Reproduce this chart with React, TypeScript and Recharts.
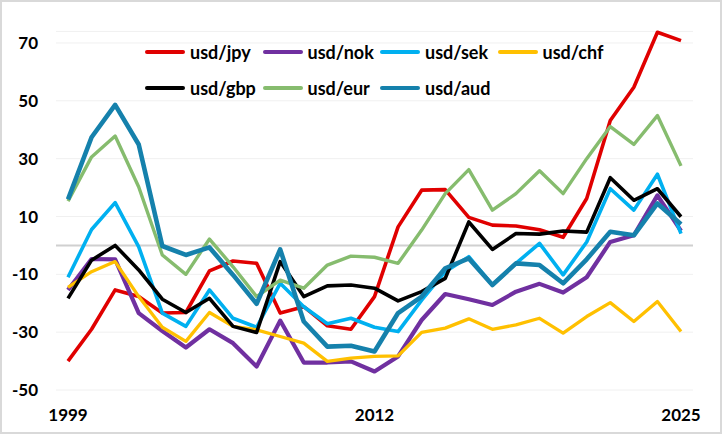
import React from 'react';
import { LineChart, Line, XAxis, YAxis, CartesianGrid, ReferenceLine } from 'recharts';

const years = [1999,2000,2001,2002,2003,2004,2005,2006,2007,2008,2009,2010,2011,2012,2013,2014,2015,2016,2017,2018,2019,2020,2021,2022,2023,2024,2025];

const usdJpy = [-40,-29,-15.4,-17.7,-23.4,-23.2,-8.8,-5.4,-6.2,-23.4,-21.2,-27.8,-29,-17.7,6.4,19.1,19.3,9.7,7,6.7,5.4,2.8,16.2,43.2,54.7,73.7,70.8];
const usdNok = [-15.4,-4.7,-4.8,-23.4,-29.6,-35.3,-29,-33.8,-41.9,-26,-40.5,-40.5,-40.1,-43.6,-38.4,-25.8,-16.8,-18.6,-20.6,-16,-13.3,-16.3,-11,1.2,3.5,17.3,5];
const usdSek = [-11,5.5,14.8,-0.5,-23.4,-28,-15.4,-25.2,-28.3,-13.1,-21.2,-27.1,-25.2,-28.3,-29.8,-18.9,-9.1,-3.9,-13.7,-6.2,0.7,-10.2,1.2,19.6,12.2,24.6,4.1];
const usdChf = [-14.5,-9.1,-5.6,-17.7,-28.3,-33.2,-23.2,-28,-29.2,-31.5,-33.8,-40.1,-39,-38.4,-38.2,-30.1,-28.6,-25.4,-29,-27.5,-25.2,-30.3,-24.6,-19.8,-26.3,-19.4,-29.8];
const usdGbp = [-18.3,-5.1,0,-8.5,-18.6,-23.2,-18.3,-28,-30.1,-5.6,-17.7,-14,-13.7,-14.8,-19.2,-16,-11.4,8.1,-1.4,4.1,3.9,5,4.6,23.4,15.6,19.6,9.9];
const usdEur = [15.3,30.6,37.8,20.2,-3.3,-10,2.2,-7.4,-17.7,-12,-14.8,-6.8,-3.7,-4.1,-6.2,5.3,17.9,26.2,12.2,17.9,25.8,17.9,30,41.1,34.9,44.9,27.5];
const usdAud = [15.9,37.4,48.6,34.9,-0.2,-3.3,-0.7,-10.2,-20.2,-1.4,-26.3,-35,-34.7,-36.7,-23.4,-17.7,-7.9,-4.5,-13.7,-6.2,-6.8,-13.1,-4.8,4.7,3.5,14.5,7.3];

const yTicks = [-50,-30,-10,10,30,50,70];

const series = [
  { key: 'usd/jpy', values: usdJpy, color: '#E00000', width: 3.6 },
  { key: 'usd/nok', values: usdNok, color: '#7030A0', width: 4.2 },
  { key: 'usd/sek', values: usdSek, color: '#00B0F0', width: 3.6 },
  { key: 'usd/chf', values: usdChf, color: '#FFC000', width: 3.3 },
  { key: 'usd/gbp', values: usdGbp, color: '#000000', width: 3.6 },
  { key: 'usd/eur', values: usdEur, color: '#86BC6E', width: 3.4 },
  { key: 'usd/aud', values: usdAud, color: '#1581AC', width: 4.6 },
];

const data = years.map((y, i) => {
  const row: Record<string, number> = { year: y };
  series.forEach(s => { row[s.key] = s.values[i]; });
  return row;
});

const FONT = 'Lato, "Open Sans", sans-serif';

const legendRows = [
  series.slice(0, 4),
  series.slice(4),
];

export default function App() {
  return (
    <div style={{ position: 'absolute', left: 0, top: 0, width: 722, height: 434, background: '#fff', fontFamily: FONT }}>
      <LineChart width={722} height={434} data={data} margin={{ top: 31.4, right: 29, bottom: 0, left: 0 }}>
        <CartesianGrid vertical={false} stroke="#f0f0f0" strokeWidth={1} />
        <XAxis
          dataKey="year"
          type="category"
          interval={12}
          axisLine={false}
          tickLine={false}
          tickSize={0}
          tickMargin={19}
          height={44}
          padding={{ left: 12, right: 12 }}
          tick={{ fill: '#000', fontSize: 17, fontWeight: 700, fontFamily: FONT }}
        />
        <YAxis
          type="number"
          domain={[-50, 74]}
          ticks={yTicks}
          interval={0}
          axisLine={false}
          tickLine={false}
          tickSize={0}
          tickMargin={18}
          width={56}
          tick={{ fill: '#000', fontSize: 17, fontWeight: 700, fontFamily: FONT }}
        />
        <ReferenceLine y={0} stroke="#d0d0d0" strokeWidth={2} />
        {series.map(s => (
          <Line
            key={s.key}
            dataKey={s.key}
            stroke={s.color}
            strokeWidth={s.width}
            dot={false}
            activeDot={false}
            strokeLinejoin="round"
            isAnimationActive={false}
          />
        ))}
      </LineChart>
      {legendRows.map((row, r) => (
        <div key={r} style={{ position: 'absolute', left: 145, top: 41 + r * 36, height: 22, display: 'flex' }}>
          {row.map(s => (
            <div key={s.key} style={{ width: 117.5, display: 'flex', alignItems: 'center', height: 22 }}>
              <div style={{ width: 40, height: 4, background: s.color, borderRadius: 2, marginRight: 5 }} />
              <span style={{ fontSize: 18, fontWeight: 700, color: '#000', whiteSpace: 'nowrap', lineHeight: '22px' }}>{s.key}</span>
            </div>
          ))}
        </div>
      ))}
      <div style={{ position: 'absolute', left: 0, top: 0, width: 722, height: 434, boxSizing: 'border-box', border: '2px solid #d9d9d9', pointerEvents: 'none' }} />
    </div>
  );
}
